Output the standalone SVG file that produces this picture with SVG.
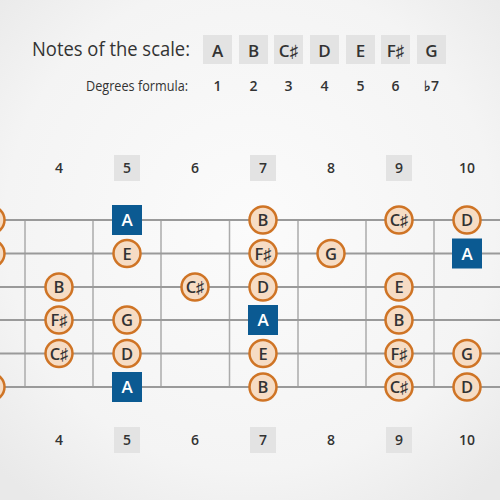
<svg xmlns="http://www.w3.org/2000/svg" width="500" height="500" viewBox="0 0 500 500">
<defs>
<radialGradient id="bg" cx="50%" cy="45%" r="70%">
<stop offset="0" stop-color="#fbfbfb"/>
<stop offset="0.7" stop-color="#f4f4f4"/>
<stop offset="1" stop-color="#e9e9e9"/>
</radialGradient>
<style>
.t{font-family:"Open Sans","Liberation Sans",sans-serif;fill:#333}
.title{font-size:20.5px}
.deg{font-size:15px}
.hb{fill:#e3e3e3}
.hn{font-size:17px;font-weight:600;text-anchor:middle}
.dn{font-size:14px;font-weight:600;text-anchor:middle}
.fn{font-size:14px;font-weight:600;text-anchor:middle}
.fb{fill:#e3e3e3}
.str{stroke:#9a9a9a;stroke-width:2}
.fret{stroke:#ababab;stroke-width:1.5}
.n circle{fill:#f6dcc4;stroke:#cf7425;stroke-width:2.5}
.n text{font-family:"Open Sans","Liberation Sans",sans-serif;font-size:16.5px;font-weight:600;fill:#333;text-anchor:middle}
.r rect{fill:#0b5a92}
.r text{font-family:"Open Sans","Liberation Sans",sans-serif;font-size:17px;font-weight:600;fill:#fff;text-anchor:middle}
</style>
</defs>
<rect width="500" height="500" fill="url(#bg)"/>

<g id="header">
<text class="t title" x="32" y="56" textLength="158" lengthAdjust="spacingAndGlyphs">Notes of the scale:</text>
<rect class="hb" x="203" y="35" width="29" height="29"/>
<rect class="hb" x="239" y="35" width="29" height="29"/>
<rect class="hb" x="274" y="35" width="29" height="29"/>
<rect class="hb" x="310" y="35" width="29" height="29"/>
<rect class="hb" x="346" y="35" width="29" height="29"/>
<rect class="hb" x="381" y="35" width="29" height="29"/>
<rect class="hb" x="417" y="35" width="29" height="29"/>
<text class="t hn" x="217.5" y="57">A</text>
<text class="t hn" x="253.5" y="57">B</text>
<text class="t hn" x="288.5" y="57">C♯</text>
<text class="t hn" x="324.5" y="57">D</text>
<text class="t hn" x="360.5" y="57">E</text>
<text class="t hn" x="395.5" y="57">F♯</text>
<text class="t hn" x="431.5" y="57">G</text>
<text class="t deg" x="86" y="91" textLength="102" lengthAdjust="spacingAndGlyphs">Degrees formula:</text>
<text class="t dn" x="217.5" y="91">1</text>
<text class="t dn" x="253.5" y="91">2</text>
<text class="t dn" x="288.5" y="91">3</text>
<text class="t dn" x="324.5" y="91">4</text>
<text class="t dn" x="360.5" y="91">5</text>
<text class="t dn" x="395.5" y="91">6</text>
<text class="t dn" x="431.5" y="91">♭7</text>
</g>

<g id="fret-numbers">
<rect class="fb" x="114" y="155" width="26" height="26"/>
<rect class="fb" x="250" y="155" width="26" height="26"/>
<rect class="fb" x="386" y="155" width="26" height="26"/>
<text class="t fn" x="59" y="173">4</text>
<text class="t fn" x="127" y="173">5</text>
<text class="t fn" x="195" y="173">6</text>
<text class="t fn" x="263" y="173">7</text>
<text class="t fn" x="331" y="173">8</text>
<text class="t fn" x="399" y="173">9</text>
<text class="t fn" x="467" y="173">10</text>
<rect class="fb" x="114" y="427" width="26" height="26"/>
<rect class="fb" x="250" y="427" width="26" height="26"/>
<rect class="fb" x="386" y="427" width="26" height="26"/>
<text class="t fn" x="59" y="445">4</text>
<text class="t fn" x="127" y="445">5</text>
<text class="t fn" x="195" y="445">6</text>
<text class="t fn" x="263" y="445">7</text>
<text class="t fn" x="331" y="445">8</text>
<text class="t fn" x="399" y="445">9</text>
<text class="t fn" x="467" y="445">10</text>
</g>

<g id="fretboard">
<line class="fret" x1="25" y1="220" x2="25" y2="387"/>
<line class="fret" x1="93" y1="220" x2="93" y2="387"/>
<line class="fret" x1="161" y1="220" x2="161" y2="387"/>
<line class="fret" x1="229.5" y1="220" x2="229.5" y2="387"/>
<line class="fret" x1="298" y1="220" x2="298" y2="387"/>
<line class="fret" x1="366" y1="220" x2="366" y2="387"/>
<line class="fret" x1="434" y1="220" x2="434" y2="387"/>
<line class="str" x1="0" y1="220" x2="500" y2="220"/>
<line class="str" x1="0" y1="253.5" x2="500" y2="253.5"/>
<line class="str" x1="0" y1="287" x2="500" y2="287"/>
<line class="str" x1="0" y1="320" x2="500" y2="320"/>
<line class="str" x1="0" y1="353.5" x2="500" y2="353.5"/>
<line class="str" x1="0" y1="387" x2="500" y2="387"/>
</g>

<g id="notes">
<g class="n" id="s1-f3"><circle cx="-9" cy="220" r="13.5"/></g>
<g class="r" id="s1-f5"><rect x="112" y="205" width="30" height="30"/><text x="127" y="226">A</text></g>
<g class="n" id="s1-f7"><circle cx="263" cy="220" r="13.5"/><text x="263" y="226">B</text></g>
<g class="n" id="s1-f9"><circle cx="399" cy="220" r="13.5"/><text x="399" y="226">C♯</text></g>
<g class="n" id="s1-f10"><circle cx="467" cy="220" r="13.5"/><text x="467" y="226">D</text></g>

<g class="n" id="s2-f3"><circle cx="-9" cy="253.5" r="13.5"/></g>
<g class="n" id="s2-f5"><circle cx="127" cy="253.5" r="13.5"/><text x="127" y="259.5">E</text></g>
<g class="n" id="s2-f7"><circle cx="263" cy="253.5" r="13.5"/><text x="263" y="259.5">F♯</text></g>
<g class="n" id="s2-f8"><circle cx="331" cy="253.5" r="13.5"/><text x="331" y="259.5">G</text></g>
<g class="r" id="s2-f10"><rect x="452" y="238.5" width="30" height="30"/><text x="467" y="259.5">A</text></g>

<g class="n" id="s3-f4"><circle cx="59" cy="287" r="13.5"/><text x="59" y="293">B</text></g>
<g class="n" id="s3-f6"><circle cx="195" cy="287" r="13.5"/><text x="195" y="293">C♯</text></g>
<g class="n" id="s3-f7"><circle cx="263" cy="287" r="13.5"/><text x="263" y="293">D</text></g>
<g class="n" id="s3-f9"><circle cx="399" cy="287" r="13.5"/><text x="399" y="293">E</text></g>

<g class="n" id="s4-f4"><circle cx="59" cy="320" r="13.5"/><text x="59" y="326">F♯</text></g>
<g class="n" id="s4-f5"><circle cx="127" cy="320" r="13.5"/><text x="127" y="326">G</text></g>
<g class="r" id="s4-f7"><rect x="248" y="305" width="30" height="30"/><text x="263" y="326">A</text></g>
<g class="n" id="s4-f9"><circle cx="399" cy="320" r="13.5"/><text x="399" y="326">B</text></g>

<g class="n" id="s5-f4"><circle cx="59" cy="353.5" r="13.5"/><text x="59" y="359.5">C♯</text></g>
<g class="n" id="s5-f5"><circle cx="127" cy="353.5" r="13.5"/><text x="127" y="359.5">D</text></g>
<g class="n" id="s5-f7"><circle cx="263" cy="353.5" r="13.5"/><text x="263" y="359.5">E</text></g>
<g class="n" id="s5-f9"><circle cx="399" cy="353.5" r="13.5"/><text x="399" y="359.5">F♯</text></g>
<g class="n" id="s5-f10"><circle cx="467" cy="353.5" r="13.5"/><text x="467" y="359.5">G</text></g>

<g class="n" id="s6-f3"><circle cx="-9" cy="387" r="13.5"/></g>
<g class="r" id="s6-f5"><rect x="112" y="372" width="30" height="30"/><text x="127" y="393">A</text></g>
<g class="n" id="s6-f7"><circle cx="263" cy="387" r="13.5"/><text x="263" y="393">B</text></g>
<g class="n" id="s6-f9"><circle cx="399" cy="387" r="13.5"/><text x="399" y="393">C♯</text></g>
<g class="n" id="s6-f10"><circle cx="467" cy="387" r="13.5"/><text x="467" y="393">D</text></g>
</g>
</svg>
